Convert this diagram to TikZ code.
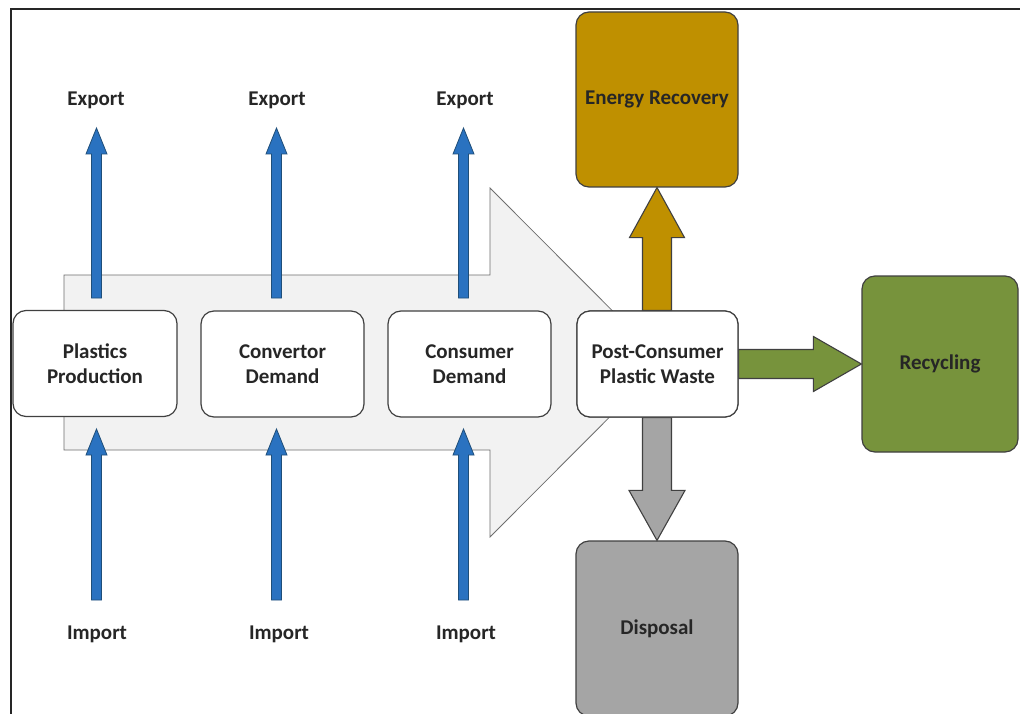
\documentclass[tikz,border=0pt]{standalone}
\usepackage{fontspec}
\setmainfont{Carlito}
\usetikzlibrary{calc}

\definecolor{flowfill}{HTML}{F2F2F2}
\definecolor{flowline}{HTML}{6E6E6E}
\definecolor{boxline}{HTML}{404040}
\definecolor{tradeblue}{HTML}{2A72C0}
\definecolor{tradeline}{HTML}{1F4E79}
\definecolor{energy}{HTML}{BF9000}
\definecolor{recyc}{HTML}{77933C}
\definecolor{dispo}{HTML}{A5A5A5}

% vertical block arrow: style, from, to, half shaft, half head, head length
\newcommand\vfat[6]{%
  \path[#1] let \p1=#2, \p2=#3, \n1={(\y2>\y1)?1:-1} in
    ({\x2-#4},\y1) -- ({\x2-#4},{\y2-\n1*#6}) -- ({\x2-#5},{\y2-\n1*#6})
    -- (\x2,\y2) -- ({\x2+#5},{\y2-\n1*#6}) -- ({\x2+#4},{\y2-\n1*#6})
    -- ({\x2+#4},\y1) -- cycle;}
% horizontal block arrow: style, from, to, half shaft, half head, head length
\newcommand\hfat[6]{%
  \path[#1] let \p1=#2, \p2=#3, \n1={(\x2>\x1)?1:-1} in
    (\x1,{\y2+#4}) -- ({\x2-\n1*#6},{\y2+#4}) -- ({\x2-\n1*#6},{\y2+#5})
    -- (\x2,\y2) -- ({\x2-\n1*#6},{\y2-#5}) -- ({\x2-\n1*#6},{\y2-#4})
    -- (\x1,{\y2-#4}) -- cycle;}

\begin{document}
\begin{tikzpicture}[x=1pt,y=-1pt,
  txt/.style={font=\bfseries\fontsize{21}{25}\selectfont, text=black!85, align=center},
  stage/.style={txt, draw=boxline, line width=1.2pt, fill=white,
    rounded corners=13pt, minimum width=163pt, minimum height=106pt, inner sep=0pt},
  sink/.style={txt, draw=boxline, line width=1.2pt, rounded corners=13pt,
    minimum width=162pt, minimum height=175pt, inner sep=0pt},
  lbl/.style={txt, inner sep=0pt},
  trade/.style={fill=tradeblue, draw=tradeline, line width=0.8pt, line join=miter},
  fat/.style={draw=boxline, line width=1.1pt, line join=miter},
]
\clip (0,0) rectangle (1020,714);
\fill[white] (0,0) rectangle (1020,714);

% frame
\draw[line width=2pt, black!85] (11,714) -- (11,9.5) -- (1022,9.5);

% main flow arrow behind the chain
\draw[fill=flowfill, draw=flowline, line width=0.8pt, line join=miter]
  (64,275) -- (490,275) -- (490,188) -- (664,362.5) -- (490,537)
  -- (490,450) -- (64,450) -- cycle;

% stages of the chain
\node[stage, minimum width=164pt] (pp)  at (95,363.5)   {Plastics\\Production};
\node[stage] (cd)  at (282.5,364) {Convertor\\Demand};
\node[stage] (cud) at (469.5,364) {Consumer\\Demand};
\node[stage, minimum width=161pt] (pcw) at (657.5,364) {Post-Consumer\\Plastic Waste};

% end-of-life destinations
\node[sink, fill=energy] (er)   at (657,99.5)  {Energy Recovery};
\node[sink, fill=recyc, minimum width=156pt, minimum height=176pt] (rec) at (940,364) {Recycling};
\node[sink, fill=dispo] (disp) at (657,628.5) {Disposal};

% trade labels
\node[lbl] (ex1) at (96,100)  {Export};
\node[lbl] (ex2) at (277,100) {Export};
\node[lbl] (ex3) at (465,100) {Export};
\node[lbl] (im1) at (97,634)  {Import};
\node[lbl] (im2) at (279,634) {Import};
\node[lbl] (im3) at (466,634) {Import};

% trade arrow end points
\coordinate (e1a) at (96.5,298);  \coordinate (e1b) at (96.5,128);
\coordinate (e2a) at (276.5,298); \coordinate (e2b) at (276.5,128);
\coordinate (e3a) at (463.5,298); \coordinate (e3b) at (463.5,128);
\coordinate (i1a) at (96.5,600);  \coordinate (i1b) at (96.5,429);
\coordinate (i2a) at (276.5,600); \coordinate (i2b) at (276.5,429);
\coordinate (i3a) at (463.5,600); \coordinate (i3b) at (463.5,429);

\foreach \a/\b in {e1a/e1b,e2a/e2b,e3a/e3b,i1a/i1b,i2a/i2b,i3a/i3b}
  {\vfat{trade}{(\a)}{(\b)}{5pt}{10.5pt}{26pt}}

% waste flows
\vfat{fat, fill=energy}{(pcw.north)}{(er.south)}{14.5pt}{27.5pt}{50pt}
\vfat{fat, fill=dispo}{(pcw.south)}{(disp.north)}{14.5pt}{28pt}{50pt}
\hfat{fat, fill=recyc}{(pcw.east)}{(rec.west)}{14.5pt}{27.5pt}{48pt}

% redraw the source box over the arrow bases
\node[stage, minimum width=161pt] at (pcw) {Post-Consumer\\Plastic Waste};
\end{tikzpicture}
\end{document}
